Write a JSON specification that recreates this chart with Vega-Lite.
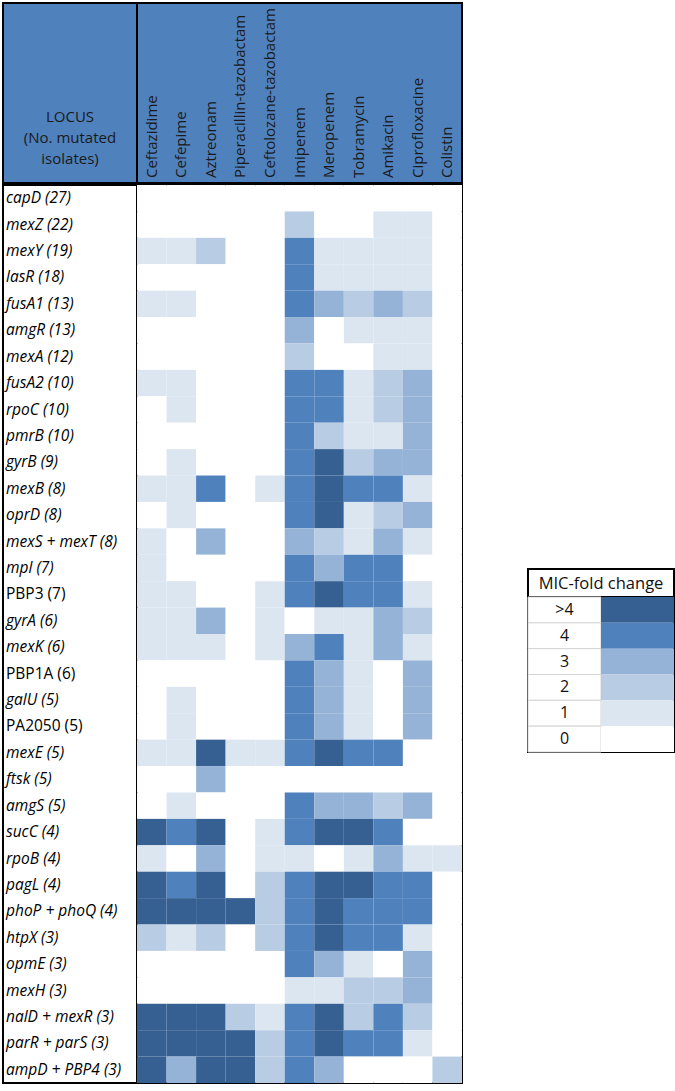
{
  "$schema": "https://vega.github.io/schema/vega-lite/v6.json",
  "padding": {"left": 2, "top": 2, "right": 3, "bottom": 5},
  "background": "white",
  "config": {"view": {"stroke": null}, "text": {"font": "Open Sans", "fontSize": 14, "color": "#111111"}},
  "datasets": {
    "drugs": [
      {"drug": "Ceftazidime"}, {"drug": "Cefepime"}, {"drug": "Aztreonam"}, {"drug": "Piperacillin-tazobactam"},
      {"drug": "Ceftolozane-tazobactam"}, {"drug": "Imipenem"}, {"drug": "Meropenem"}, {"drug": "Tobramycin"},
      {"drug": "Amikacin"}, {"drug": "Ciprofloxacine"}, {"drug": "Colistin"}
    ],
    "loci": [
      {"locus": "capD (27)"}, {"locus": "mexZ (22)"}, {"locus": "mexY (19)"}, {"locus": "lasR (18)"},
      {"locus": "fusA1 (13)"}, {"locus": "amgR (13)"}, {"locus": "mexA (12)"}, {"locus": "fusA2 (10)"},
      {"locus": "rpoC (10)"}, {"locus": "pmrB (10)"}, {"locus": "gyrB (9)"}, {"locus": "mexB (8)"},
      {"locus": "oprD (8)"}, {"locus": "mexS + mexT (8)"}, {"locus": "mpl (7)"}, {"locus": "PBP3 (7)"},
      {"locus": "gyrA (6)"}, {"locus": "mexK (6)"}, {"locus": "PBP1A (6)"}, {"locus": "galU (5)"},
      {"locus": "PA2050 (5)"}, {"locus": "mexE (5)"}, {"locus": "ftsk (5)"}, {"locus": "amgS (5)"},
      {"locus": "sucC (4)"}, {"locus": "rpoB (4)"}, {"locus": "pagL (4)"}, {"locus": "phoP + phoQ (4)"},
      {"locus": "htpX (3)"}, {"locus": "opmE (3)"}, {"locus": "mexH (3)"}, {"locus": "nalD + mexR (3)"},
      {"locus": "parR + parS (3)"}, {"locus": "ampD + PBP4 (3)"}
    ],
    "levels": [
      {"level": ">4", "fold": 5}, {"level": "4", "fold": 4}, {"level": "3", "fold": 3},
      {"level": "2", "fold": 2}, {"level": "1", "fold": 1}, {"level": "0", "fold": 0}
    ],
    "cells": [
      {"locus":"capD (27)","drug":"Ceftazidime","fold":0},{"locus":"capD (27)","drug":"Cefepime","fold":0},{"locus":"capD (27)","drug":"Aztreonam","fold":0},{"locus":"capD (27)","drug":"Piperacillin-tazobactam","fold":0},{"locus":"capD (27)","drug":"Ceftolozane-tazobactam","fold":0},{"locus":"capD (27)","drug":"Imipenem","fold":0},{"locus":"capD (27)","drug":"Meropenem","fold":0},{"locus":"capD (27)","drug":"Tobramycin","fold":0},{"locus":"capD (27)","drug":"Amikacin","fold":0},{"locus":"capD (27)","drug":"Ciprofloxacine","fold":0},{"locus":"capD (27)","drug":"Colistin","fold":0},
      {"locus":"mexZ (22)","drug":"Ceftazidime","fold":0},{"locus":"mexZ (22)","drug":"Cefepime","fold":0},{"locus":"mexZ (22)","drug":"Aztreonam","fold":0},{"locus":"mexZ (22)","drug":"Piperacillin-tazobactam","fold":0},{"locus":"mexZ (22)","drug":"Ceftolozane-tazobactam","fold":0},{"locus":"mexZ (22)","drug":"Imipenem","fold":2},{"locus":"mexZ (22)","drug":"Meropenem","fold":0},{"locus":"mexZ (22)","drug":"Tobramycin","fold":0},{"locus":"mexZ (22)","drug":"Amikacin","fold":1},{"locus":"mexZ (22)","drug":"Ciprofloxacine","fold":1},{"locus":"mexZ (22)","drug":"Colistin","fold":0},
      {"locus":"mexY (19)","drug":"Ceftazidime","fold":1},{"locus":"mexY (19)","drug":"Cefepime","fold":1},{"locus":"mexY (19)","drug":"Aztreonam","fold":2},{"locus":"mexY (19)","drug":"Piperacillin-tazobactam","fold":0},{"locus":"mexY (19)","drug":"Ceftolozane-tazobactam","fold":0},{"locus":"mexY (19)","drug":"Imipenem","fold":4},{"locus":"mexY (19)","drug":"Meropenem","fold":1},{"locus":"mexY (19)","drug":"Tobramycin","fold":1},{"locus":"mexY (19)","drug":"Amikacin","fold":1},{"locus":"mexY (19)","drug":"Ciprofloxacine","fold":1},{"locus":"mexY (19)","drug":"Colistin","fold":0},
      {"locus":"lasR (18)","drug":"Ceftazidime","fold":0},{"locus":"lasR (18)","drug":"Cefepime","fold":0},{"locus":"lasR (18)","drug":"Aztreonam","fold":0},{"locus":"lasR (18)","drug":"Piperacillin-tazobactam","fold":0},{"locus":"lasR (18)","drug":"Ceftolozane-tazobactam","fold":0},{"locus":"lasR (18)","drug":"Imipenem","fold":4},{"locus":"lasR (18)","drug":"Meropenem","fold":1},{"locus":"lasR (18)","drug":"Tobramycin","fold":1},{"locus":"lasR (18)","drug":"Amikacin","fold":1},{"locus":"lasR (18)","drug":"Ciprofloxacine","fold":1},{"locus":"lasR (18)","drug":"Colistin","fold":0},
      {"locus":"fusA1 (13)","drug":"Ceftazidime","fold":1},{"locus":"fusA1 (13)","drug":"Cefepime","fold":1},{"locus":"fusA1 (13)","drug":"Aztreonam","fold":0},{"locus":"fusA1 (13)","drug":"Piperacillin-tazobactam","fold":0},{"locus":"fusA1 (13)","drug":"Ceftolozane-tazobactam","fold":0},{"locus":"fusA1 (13)","drug":"Imipenem","fold":4},{"locus":"fusA1 (13)","drug":"Meropenem","fold":3},{"locus":"fusA1 (13)","drug":"Tobramycin","fold":2},{"locus":"fusA1 (13)","drug":"Amikacin","fold":3},{"locus":"fusA1 (13)","drug":"Ciprofloxacine","fold":2},{"locus":"fusA1 (13)","drug":"Colistin","fold":0},
      {"locus":"amgR (13)","drug":"Ceftazidime","fold":0},{"locus":"amgR (13)","drug":"Cefepime","fold":0},{"locus":"amgR (13)","drug":"Aztreonam","fold":0},{"locus":"amgR (13)","drug":"Piperacillin-tazobactam","fold":0},{"locus":"amgR (13)","drug":"Ceftolozane-tazobactam","fold":0},{"locus":"amgR (13)","drug":"Imipenem","fold":3},{"locus":"amgR (13)","drug":"Meropenem","fold":0},{"locus":"amgR (13)","drug":"Tobramycin","fold":1},{"locus":"amgR (13)","drug":"Amikacin","fold":1},{"locus":"amgR (13)","drug":"Ciprofloxacine","fold":1},{"locus":"amgR (13)","drug":"Colistin","fold":0},
      {"locus":"mexA (12)","drug":"Ceftazidime","fold":0},{"locus":"mexA (12)","drug":"Cefepime","fold":0},{"locus":"mexA (12)","drug":"Aztreonam","fold":0},{"locus":"mexA (12)","drug":"Piperacillin-tazobactam","fold":0},{"locus":"mexA (12)","drug":"Ceftolozane-tazobactam","fold":0},{"locus":"mexA (12)","drug":"Imipenem","fold":2},{"locus":"mexA (12)","drug":"Meropenem","fold":0},{"locus":"mexA (12)","drug":"Tobramycin","fold":0},{"locus":"mexA (12)","drug":"Amikacin","fold":1},{"locus":"mexA (12)","drug":"Ciprofloxacine","fold":1},{"locus":"mexA (12)","drug":"Colistin","fold":0},
      {"locus":"fusA2 (10)","drug":"Ceftazidime","fold":1},{"locus":"fusA2 (10)","drug":"Cefepime","fold":1},{"locus":"fusA2 (10)","drug":"Aztreonam","fold":0},{"locus":"fusA2 (10)","drug":"Piperacillin-tazobactam","fold":0},{"locus":"fusA2 (10)","drug":"Ceftolozane-tazobactam","fold":0},{"locus":"fusA2 (10)","drug":"Imipenem","fold":4},{"locus":"fusA2 (10)","drug":"Meropenem","fold":4},{"locus":"fusA2 (10)","drug":"Tobramycin","fold":1},{"locus":"fusA2 (10)","drug":"Amikacin","fold":2},{"locus":"fusA2 (10)","drug":"Ciprofloxacine","fold":3},{"locus":"fusA2 (10)","drug":"Colistin","fold":0},
      {"locus":"rpoC (10)","drug":"Ceftazidime","fold":0},{"locus":"rpoC (10)","drug":"Cefepime","fold":1},{"locus":"rpoC (10)","drug":"Aztreonam","fold":0},{"locus":"rpoC (10)","drug":"Piperacillin-tazobactam","fold":0},{"locus":"rpoC (10)","drug":"Ceftolozane-tazobactam","fold":0},{"locus":"rpoC (10)","drug":"Imipenem","fold":4},{"locus":"rpoC (10)","drug":"Meropenem","fold":4},{"locus":"rpoC (10)","drug":"Tobramycin","fold":1},{"locus":"rpoC (10)","drug":"Amikacin","fold":2},{"locus":"rpoC (10)","drug":"Ciprofloxacine","fold":3},{"locus":"rpoC (10)","drug":"Colistin","fold":0},
      {"locus":"pmrB (10)","drug":"Ceftazidime","fold":0},{"locus":"pmrB (10)","drug":"Cefepime","fold":0},{"locus":"pmrB (10)","drug":"Aztreonam","fold":0},{"locus":"pmrB (10)","drug":"Piperacillin-tazobactam","fold":0},{"locus":"pmrB (10)","drug":"Ceftolozane-tazobactam","fold":0},{"locus":"pmrB (10)","drug":"Imipenem","fold":4},{"locus":"pmrB (10)","drug":"Meropenem","fold":2},{"locus":"pmrB (10)","drug":"Tobramycin","fold":1},{"locus":"pmrB (10)","drug":"Amikacin","fold":1},{"locus":"pmrB (10)","drug":"Ciprofloxacine","fold":3},{"locus":"pmrB (10)","drug":"Colistin","fold":0},
      {"locus":"gyrB (9)","drug":"Ceftazidime","fold":0},{"locus":"gyrB (9)","drug":"Cefepime","fold":1},{"locus":"gyrB (9)","drug":"Aztreonam","fold":0},{"locus":"gyrB (9)","drug":"Piperacillin-tazobactam","fold":0},{"locus":"gyrB (9)","drug":"Ceftolozane-tazobactam","fold":0},{"locus":"gyrB (9)","drug":"Imipenem","fold":4},{"locus":"gyrB (9)","drug":"Meropenem","fold":5},{"locus":"gyrB (9)","drug":"Tobramycin","fold":2},{"locus":"gyrB (9)","drug":"Amikacin","fold":3},{"locus":"gyrB (9)","drug":"Ciprofloxacine","fold":3},{"locus":"gyrB (9)","drug":"Colistin","fold":0},
      {"locus":"mexB (8)","drug":"Ceftazidime","fold":1},{"locus":"mexB (8)","drug":"Cefepime","fold":1},{"locus":"mexB (8)","drug":"Aztreonam","fold":4},{"locus":"mexB (8)","drug":"Piperacillin-tazobactam","fold":0},{"locus":"mexB (8)","drug":"Ceftolozane-tazobactam","fold":1},{"locus":"mexB (8)","drug":"Imipenem","fold":4},{"locus":"mexB (8)","drug":"Meropenem","fold":5},{"locus":"mexB (8)","drug":"Tobramycin","fold":4},{"locus":"mexB (8)","drug":"Amikacin","fold":4},{"locus":"mexB (8)","drug":"Ciprofloxacine","fold":1},{"locus":"mexB (8)","drug":"Colistin","fold":0},
      {"locus":"oprD (8)","drug":"Ceftazidime","fold":0},{"locus":"oprD (8)","drug":"Cefepime","fold":1},{"locus":"oprD (8)","drug":"Aztreonam","fold":0},{"locus":"oprD (8)","drug":"Piperacillin-tazobactam","fold":0},{"locus":"oprD (8)","drug":"Ceftolozane-tazobactam","fold":0},{"locus":"oprD (8)","drug":"Imipenem","fold":4},{"locus":"oprD (8)","drug":"Meropenem","fold":5},{"locus":"oprD (8)","drug":"Tobramycin","fold":1},{"locus":"oprD (8)","drug":"Amikacin","fold":2},{"locus":"oprD (8)","drug":"Ciprofloxacine","fold":3},{"locus":"oprD (8)","drug":"Colistin","fold":0},
      {"locus":"mexS + mexT (8)","drug":"Ceftazidime","fold":1},{"locus":"mexS + mexT (8)","drug":"Cefepime","fold":0},{"locus":"mexS + mexT (8)","drug":"Aztreonam","fold":3},{"locus":"mexS + mexT (8)","drug":"Piperacillin-tazobactam","fold":0},{"locus":"mexS + mexT (8)","drug":"Ceftolozane-tazobactam","fold":0},{"locus":"mexS + mexT (8)","drug":"Imipenem","fold":3},{"locus":"mexS + mexT (8)","drug":"Meropenem","fold":2},{"locus":"mexS + mexT (8)","drug":"Tobramycin","fold":1},{"locus":"mexS + mexT (8)","drug":"Amikacin","fold":3},{"locus":"mexS + mexT (8)","drug":"Ciprofloxacine","fold":1},{"locus":"mexS + mexT (8)","drug":"Colistin","fold":0},
      {"locus":"mpl (7)","drug":"Ceftazidime","fold":1},{"locus":"mpl (7)","drug":"Cefepime","fold":0},{"locus":"mpl (7)","drug":"Aztreonam","fold":0},{"locus":"mpl (7)","drug":"Piperacillin-tazobactam","fold":0},{"locus":"mpl (7)","drug":"Ceftolozane-tazobactam","fold":0},{"locus":"mpl (7)","drug":"Imipenem","fold":4},{"locus":"mpl (7)","drug":"Meropenem","fold":3},{"locus":"mpl (7)","drug":"Tobramycin","fold":4},{"locus":"mpl (7)","drug":"Amikacin","fold":4},{"locus":"mpl (7)","drug":"Ciprofloxacine","fold":0},{"locus":"mpl (7)","drug":"Colistin","fold":0},
      {"locus":"PBP3 (7)","drug":"Ceftazidime","fold":1},{"locus":"PBP3 (7)","drug":"Cefepime","fold":1},{"locus":"PBP3 (7)","drug":"Aztreonam","fold":0},{"locus":"PBP3 (7)","drug":"Piperacillin-tazobactam","fold":0},{"locus":"PBP3 (7)","drug":"Ceftolozane-tazobactam","fold":1},{"locus":"PBP3 (7)","drug":"Imipenem","fold":4},{"locus":"PBP3 (7)","drug":"Meropenem","fold":5},{"locus":"PBP3 (7)","drug":"Tobramycin","fold":4},{"locus":"PBP3 (7)","drug":"Amikacin","fold":4},{"locus":"PBP3 (7)","drug":"Ciprofloxacine","fold":1},{"locus":"PBP3 (7)","drug":"Colistin","fold":0},
      {"locus":"gyrA (6)","drug":"Ceftazidime","fold":1},{"locus":"gyrA (6)","drug":"Cefepime","fold":1},{"locus":"gyrA (6)","drug":"Aztreonam","fold":3},{"locus":"gyrA (6)","drug":"Piperacillin-tazobactam","fold":0},{"locus":"gyrA (6)","drug":"Ceftolozane-tazobactam","fold":1},{"locus":"gyrA (6)","drug":"Imipenem","fold":0},{"locus":"gyrA (6)","drug":"Meropenem","fold":1},{"locus":"gyrA (6)","drug":"Tobramycin","fold":1},{"locus":"gyrA (6)","drug":"Amikacin","fold":3},{"locus":"gyrA (6)","drug":"Ciprofloxacine","fold":2},{"locus":"gyrA (6)","drug":"Colistin","fold":0},
      {"locus":"mexK (6)","drug":"Ceftazidime","fold":1},{"locus":"mexK (6)","drug":"Cefepime","fold":1},{"locus":"mexK (6)","drug":"Aztreonam","fold":1},{"locus":"mexK (6)","drug":"Piperacillin-tazobactam","fold":0},{"locus":"mexK (6)","drug":"Ceftolozane-tazobactam","fold":1},{"locus":"mexK (6)","drug":"Imipenem","fold":3},{"locus":"mexK (6)","drug":"Meropenem","fold":4},{"locus":"mexK (6)","drug":"Tobramycin","fold":1},{"locus":"mexK (6)","drug":"Amikacin","fold":3},{"locus":"mexK (6)","drug":"Ciprofloxacine","fold":1},{"locus":"mexK (6)","drug":"Colistin","fold":0},
      {"locus":"PBP1A (6)","drug":"Ceftazidime","fold":0},{"locus":"PBP1A (6)","drug":"Cefepime","fold":0},{"locus":"PBP1A (6)","drug":"Aztreonam","fold":0},{"locus":"PBP1A (6)","drug":"Piperacillin-tazobactam","fold":0},{"locus":"PBP1A (6)","drug":"Ceftolozane-tazobactam","fold":0},{"locus":"PBP1A (6)","drug":"Imipenem","fold":4},{"locus":"PBP1A (6)","drug":"Meropenem","fold":3},{"locus":"PBP1A (6)","drug":"Tobramycin","fold":1},{"locus":"PBP1A (6)","drug":"Amikacin","fold":0},{"locus":"PBP1A (6)","drug":"Ciprofloxacine","fold":3},{"locus":"PBP1A (6)","drug":"Colistin","fold":0},
      {"locus":"galU (5)","drug":"Ceftazidime","fold":0},{"locus":"galU (5)","drug":"Cefepime","fold":1},{"locus":"galU (5)","drug":"Aztreonam","fold":0},{"locus":"galU (5)","drug":"Piperacillin-tazobactam","fold":0},{"locus":"galU (5)","drug":"Ceftolozane-tazobactam","fold":0},{"locus":"galU (5)","drug":"Imipenem","fold":4},{"locus":"galU (5)","drug":"Meropenem","fold":3},{"locus":"galU (5)","drug":"Tobramycin","fold":1},{"locus":"galU (5)","drug":"Amikacin","fold":0},{"locus":"galU (5)","drug":"Ciprofloxacine","fold":3},{"locus":"galU (5)","drug":"Colistin","fold":0},
      {"locus":"PA2050 (5)","drug":"Ceftazidime","fold":0},{"locus":"PA2050 (5)","drug":"Cefepime","fold":1},{"locus":"PA2050 (5)","drug":"Aztreonam","fold":0},{"locus":"PA2050 (5)","drug":"Piperacillin-tazobactam","fold":0},{"locus":"PA2050 (5)","drug":"Ceftolozane-tazobactam","fold":0},{"locus":"PA2050 (5)","drug":"Imipenem","fold":4},{"locus":"PA2050 (5)","drug":"Meropenem","fold":3},{"locus":"PA2050 (5)","drug":"Tobramycin","fold":1},{"locus":"PA2050 (5)","drug":"Amikacin","fold":0},{"locus":"PA2050 (5)","drug":"Ciprofloxacine","fold":3},{"locus":"PA2050 (5)","drug":"Colistin","fold":0},
      {"locus":"mexE (5)","drug":"Ceftazidime","fold":1},{"locus":"mexE (5)","drug":"Cefepime","fold":1},{"locus":"mexE (5)","drug":"Aztreonam","fold":5},{"locus":"mexE (5)","drug":"Piperacillin-tazobactam","fold":1},{"locus":"mexE (5)","drug":"Ceftolozane-tazobactam","fold":1},{"locus":"mexE (5)","drug":"Imipenem","fold":4},{"locus":"mexE (5)","drug":"Meropenem","fold":5},{"locus":"mexE (5)","drug":"Tobramycin","fold":4},{"locus":"mexE (5)","drug":"Amikacin","fold":4},{"locus":"mexE (5)","drug":"Ciprofloxacine","fold":0},{"locus":"mexE (5)","drug":"Colistin","fold":0},
      {"locus":"ftsk (5)","drug":"Ceftazidime","fold":0},{"locus":"ftsk (5)","drug":"Cefepime","fold":0},{"locus":"ftsk (5)","drug":"Aztreonam","fold":3},{"locus":"ftsk (5)","drug":"Piperacillin-tazobactam","fold":0},{"locus":"ftsk (5)","drug":"Ceftolozane-tazobactam","fold":0},{"locus":"ftsk (5)","drug":"Imipenem","fold":0},{"locus":"ftsk (5)","drug":"Meropenem","fold":0},{"locus":"ftsk (5)","drug":"Tobramycin","fold":0},{"locus":"ftsk (5)","drug":"Amikacin","fold":0},{"locus":"ftsk (5)","drug":"Ciprofloxacine","fold":0},{"locus":"ftsk (5)","drug":"Colistin","fold":0},
      {"locus":"amgS (5)","drug":"Ceftazidime","fold":0},{"locus":"amgS (5)","drug":"Cefepime","fold":1},{"locus":"amgS (5)","drug":"Aztreonam","fold":0},{"locus":"amgS (5)","drug":"Piperacillin-tazobactam","fold":0},{"locus":"amgS (5)","drug":"Ceftolozane-tazobactam","fold":0},{"locus":"amgS (5)","drug":"Imipenem","fold":4},{"locus":"amgS (5)","drug":"Meropenem","fold":3},{"locus":"amgS (5)","drug":"Tobramycin","fold":3},{"locus":"amgS (5)","drug":"Amikacin","fold":2},{"locus":"amgS (5)","drug":"Ciprofloxacine","fold":3},{"locus":"amgS (5)","drug":"Colistin","fold":0},
      {"locus":"sucC (4)","drug":"Ceftazidime","fold":5},{"locus":"sucC (4)","drug":"Cefepime","fold":4},{"locus":"sucC (4)","drug":"Aztreonam","fold":5},{"locus":"sucC (4)","drug":"Piperacillin-tazobactam","fold":0},{"locus":"sucC (4)","drug":"Ceftolozane-tazobactam","fold":1},{"locus":"sucC (4)","drug":"Imipenem","fold":4},{"locus":"sucC (4)","drug":"Meropenem","fold":5},{"locus":"sucC (4)","drug":"Tobramycin","fold":5},{"locus":"sucC (4)","drug":"Amikacin","fold":4},{"locus":"sucC (4)","drug":"Ciprofloxacine","fold":0},{"locus":"sucC (4)","drug":"Colistin","fold":0},
      {"locus":"rpoB (4)","drug":"Ceftazidime","fold":1},{"locus":"rpoB (4)","drug":"Cefepime","fold":0},{"locus":"rpoB (4)","drug":"Aztreonam","fold":3},{"locus":"rpoB (4)","drug":"Piperacillin-tazobactam","fold":0},{"locus":"rpoB (4)","drug":"Ceftolozane-tazobactam","fold":1},{"locus":"rpoB (4)","drug":"Imipenem","fold":1},{"locus":"rpoB (4)","drug":"Meropenem","fold":0},{"locus":"rpoB (4)","drug":"Tobramycin","fold":1},{"locus":"rpoB (4)","drug":"Amikacin","fold":3},{"locus":"rpoB (4)","drug":"Ciprofloxacine","fold":1},{"locus":"rpoB (4)","drug":"Colistin","fold":1},
      {"locus":"pagL (4)","drug":"Ceftazidime","fold":5},{"locus":"pagL (4)","drug":"Cefepime","fold":4},{"locus":"pagL (4)","drug":"Aztreonam","fold":5},{"locus":"pagL (4)","drug":"Piperacillin-tazobactam","fold":0},{"locus":"pagL (4)","drug":"Ceftolozane-tazobactam","fold":2},{"locus":"pagL (4)","drug":"Imipenem","fold":4},{"locus":"pagL (4)","drug":"Meropenem","fold":5},{"locus":"pagL (4)","drug":"Tobramycin","fold":5},{"locus":"pagL (4)","drug":"Amikacin","fold":4},{"locus":"pagL (4)","drug":"Ciprofloxacine","fold":4},{"locus":"pagL (4)","drug":"Colistin","fold":0},
      {"locus":"phoP + phoQ (4)","drug":"Ceftazidime","fold":5},{"locus":"phoP + phoQ (4)","drug":"Cefepime","fold":5},{"locus":"phoP + phoQ (4)","drug":"Aztreonam","fold":5},{"locus":"phoP + phoQ (4)","drug":"Piperacillin-tazobactam","fold":5},{"locus":"phoP + phoQ (4)","drug":"Ceftolozane-tazobactam","fold":2},{"locus":"phoP + phoQ (4)","drug":"Imipenem","fold":4},{"locus":"phoP + phoQ (4)","drug":"Meropenem","fold":5},{"locus":"phoP + phoQ (4)","drug":"Tobramycin","fold":4},{"locus":"phoP + phoQ (4)","drug":"Amikacin","fold":4},{"locus":"phoP + phoQ (4)","drug":"Ciprofloxacine","fold":4},{"locus":"phoP + phoQ (4)","drug":"Colistin","fold":0},
      {"locus":"htpX (3)","drug":"Ceftazidime","fold":2},{"locus":"htpX (3)","drug":"Cefepime","fold":1},{"locus":"htpX (3)","drug":"Aztreonam","fold":2},{"locus":"htpX (3)","drug":"Piperacillin-tazobactam","fold":0},{"locus":"htpX (3)","drug":"Ceftolozane-tazobactam","fold":2},{"locus":"htpX (3)","drug":"Imipenem","fold":4},{"locus":"htpX (3)","drug":"Meropenem","fold":5},{"locus":"htpX (3)","drug":"Tobramycin","fold":4},{"locus":"htpX (3)","drug":"Amikacin","fold":4},{"locus":"htpX (3)","drug":"Ciprofloxacine","fold":1},{"locus":"htpX (3)","drug":"Colistin","fold":0},
      {"locus":"opmE (3)","drug":"Ceftazidime","fold":0},{"locus":"opmE (3)","drug":"Cefepime","fold":0},{"locus":"opmE (3)","drug":"Aztreonam","fold":0},{"locus":"opmE (3)","drug":"Piperacillin-tazobactam","fold":0},{"locus":"opmE (3)","drug":"Ceftolozane-tazobactam","fold":0},{"locus":"opmE (3)","drug":"Imipenem","fold":4},{"locus":"opmE (3)","drug":"Meropenem","fold":3},{"locus":"opmE (3)","drug":"Tobramycin","fold":1},{"locus":"opmE (3)","drug":"Amikacin","fold":0},{"locus":"opmE (3)","drug":"Ciprofloxacine","fold":3},{"locus":"opmE (3)","drug":"Colistin","fold":0},
      {"locus":"mexH (3)","drug":"Ceftazidime","fold":0},{"locus":"mexH (3)","drug":"Cefepime","fold":0},{"locus":"mexH (3)","drug":"Aztreonam","fold":0},{"locus":"mexH (3)","drug":"Piperacillin-tazobactam","fold":0},{"locus":"mexH (3)","drug":"Ceftolozane-tazobactam","fold":0},{"locus":"mexH (3)","drug":"Imipenem","fold":1},{"locus":"mexH (3)","drug":"Meropenem","fold":1},{"locus":"mexH (3)","drug":"Tobramycin","fold":2},{"locus":"mexH (3)","drug":"Amikacin","fold":2},{"locus":"mexH (3)","drug":"Ciprofloxacine","fold":3},{"locus":"mexH (3)","drug":"Colistin","fold":0},
      {"locus":"nalD + mexR (3)","drug":"Ceftazidime","fold":5},{"locus":"nalD + mexR (3)","drug":"Cefepime","fold":5},{"locus":"nalD + mexR (3)","drug":"Aztreonam","fold":5},{"locus":"nalD + mexR (3)","drug":"Piperacillin-tazobactam","fold":2},{"locus":"nalD + mexR (3)","drug":"Ceftolozane-tazobactam","fold":1},{"locus":"nalD + mexR (3)","drug":"Imipenem","fold":4},{"locus":"nalD + mexR (3)","drug":"Meropenem","fold":5},{"locus":"nalD + mexR (3)","drug":"Tobramycin","fold":2},{"locus":"nalD + mexR (3)","drug":"Amikacin","fold":4},{"locus":"nalD + mexR (3)","drug":"Ciprofloxacine","fold":2},{"locus":"nalD + mexR (3)","drug":"Colistin","fold":0},
      {"locus":"parR + parS (3)","drug":"Ceftazidime","fold":5},{"locus":"parR + parS (3)","drug":"Cefepime","fold":5},{"locus":"parR + parS (3)","drug":"Aztreonam","fold":5},{"locus":"parR + parS (3)","drug":"Piperacillin-tazobactam","fold":5},{"locus":"parR + parS (3)","drug":"Ceftolozane-tazobactam","fold":2},{"locus":"parR + parS (3)","drug":"Imipenem","fold":4},{"locus":"parR + parS (3)","drug":"Meropenem","fold":5},{"locus":"parR + parS (3)","drug":"Tobramycin","fold":4},{"locus":"parR + parS (3)","drug":"Amikacin","fold":4},{"locus":"parR + parS (3)","drug":"Ciprofloxacine","fold":1},{"locus":"parR + parS (3)","drug":"Colistin","fold":0},
      {"locus":"ampD + PBP4 (3)","drug":"Ceftazidime","fold":5},{"locus":"ampD + PBP4 (3)","drug":"Cefepime","fold":3},{"locus":"ampD + PBP4 (3)","drug":"Aztreonam","fold":5},{"locus":"ampD + PBP4 (3)","drug":"Piperacillin-tazobactam","fold":5},{"locus":"ampD + PBP4 (3)","drug":"Ceftolozane-tazobactam","fold":2},{"locus":"ampD + PBP4 (3)","drug":"Imipenem","fold":4},{"locus":"ampD + PBP4 (3)","drug":"Meropenem","fold":3},{"locus":"ampD + PBP4 (3)","drug":"Tobramycin","fold":0},{"locus":"ampD + PBP4 (3)","drug":"Amikacin","fold":0},{"locus":"ampD + PBP4 (3)","drug":"Ciprofloxacine","fold":0},{"locus":"ampD + PBP4 (3)","drug":"Colistin","fold":2}
    ]
  },
  "spacing": 62,
  "hconcat": [
    {
      "spacing": 0,
      "vconcat": [
        {
          "spacing": 0,
          "bounds": "flush",
          "hconcat": [
            {
              "width": 134,
              "height": 180,
              "view": {"fill": "#4F81BD", "stroke": "#000000", "strokeWidth": 2},
              "data": {"values": [{"title": "LOCUS"}]},
              "mark": {"type": "text", "text": ["LOCUS", "(No. mutated", "isolates)"], "align": "center", "baseline": "middle", "lineHeight": 21, "dy": 24, "fontSize": 15, "color": "#1a1a1a"},
              "encoding": {}
            },
            {
              "width": 325,
              "height": 180,
              "view": {"fill": "#4F81BD", "stroke": "#000000", "strokeWidth": 2},
              "data": {"name": "drugs"},
              "mark": {"type": "text", "angle": 270, "align": "left", "baseline": "middle", "dx": 5, "fontSize": 15, "color": "#1a1a1a"},
              "encoding": {
                "x": {"field": "drug", "type": "nominal", "sort": null, "axis": null, "scale": {"paddingInner": 0, "paddingOuter": 0}},
                "y": {"value": "height"},
                "text": {"field": "drug"}
              }
            }
          ]
        },
        {
          "spacing": 0,
          "bounds": "flush",
          "hconcat": [
            {
              "width": 134,
              "height": 898,
              "view": {"fill": "white", "stroke": "#000000", "strokeWidth": 2},
              "data": {"name": "loci"},
              "layer": [
                {
                  "mark": {"type": "text", "align": "left", "baseline": "middle", "dx": 3, "fontSize": 15.5, "fontStyle": "italic", "color": "#000000"},
                  "encoding": {
                    "x": {"value": 0},
                    "y": {"field": "locus", "type": "nominal", "sort": null, "axis": null, "scale": {"paddingInner": 0, "paddingOuter": 0}},
                    "text": {"field": "locus"},
                    "opacity": {"condition": {"test": "test(/^P[AB]/, datum.locus)", "value": 0}, "value": 1}
                  }
                },
                {
                  "mark": {"type": "text", "align": "left", "baseline": "middle", "dx": 3, "fontSize": 15.5, "fontStyle": "normal", "color": "#000000"},
                  "encoding": {
                    "x": {"value": 0},
                    "y": {"field": "locus", "type": "nominal", "sort": null, "axis": null},
                    "text": {"field": "locus"},
                    "opacity": {"condition": {"test": "test(/^P[AB]/, datum.locus)", "value": 1}, "value": 0}
                  }
                }
              ]
            },
            {
              "width": 325,
              "height": 898,
              "view": {"fill": "white", "stroke": "#000000", "strokeWidth": 2},
              "data": {"name": "cells"},
              "mark": {"type": "rect"},
              "encoding": {
                "x": {"field": "drug", "type": "nominal", "sort": null, "axis": null, "scale": {"paddingInner": 0, "paddingOuter": 0}},
                "y": {"field": "locus", "type": "nominal", "sort": null, "axis": null, "scale": {"paddingInner": 0, "paddingOuter": 0}},
                "color": {"field": "fold", "type": "ordinal", "legend": null, "scale": {"domain": [0, 1, 2, 3, 4, 5], "range": ["#FFFFFF", "#DCE6F1", "#B8CCE4", "#95B3D7", "#4F81BD", "#366092"]}}
              }
            }
          ]
        }
      ]
    },
    {
      "spacing": 0,
      "bounds": "flush",
      "vconcat": [
        {
          "width": 146,
          "height": 566,
          "data": {"values": []},
          "mark": {"type": "text"},
          "encoding": {}
        },
        {
          "width": 146,
          "height": 28,
          "view": {"fill": "white", "stroke": "#000000", "strokeWidth": 2},
          "data": {"values": [{"title": "MIC-fold change"}]},
          "mark": {"type": "text", "align": "center", "baseline": "middle", "fontSize": 16.5, "dy": 1, "color": "#111111"},
          "encoding": {"text": {"field": "title"}}
        },
        {
          "width": 146,
          "height": 155,
          "view": {"fill": "white", "stroke": "#000000", "strokeWidth": 2},
          "data": {"name": "levels"},
          "encoding": {
            "y": {"field": "level", "type": "nominal", "sort": null, "axis": null, "scale": {"paddingInner": 0, "paddingOuter": 0}}
          },
          "layer": [
            {
              "mark": {"type": "rect", "fill": "white", "stroke": "#d4d4d4", "strokeWidth": 1},
              "encoding": {"x": {"datum": "label", "type": "nominal", "axis": null, "scale": {"domain": ["label", "swatch"], "paddingInner": 0, "paddingOuter": 0}}}
            },
            {
              "mark": {"type": "text", "align": "center", "baseline": "middle", "fontSize": 16, "color": "#111111"},
              "encoding": {"x": {"datum": "label", "type": "nominal"}, "text": {"field": "level"}}
            },
            {
              "mark": {"type": "rect"},
              "encoding": {
                "x": {"datum": "swatch", "type": "nominal"},
                "color": {"field": "fold", "type": "ordinal", "legend": null, "scale": {"domain": [0, 1, 2, 3, 4, 5], "range": ["#FFFFFF", "#DCE6F1", "#B8CCE4", "#95B3D7", "#4F81BD", "#366092"]}}
              }
            }
          ]
        }
      ]
    }
  ]
}
